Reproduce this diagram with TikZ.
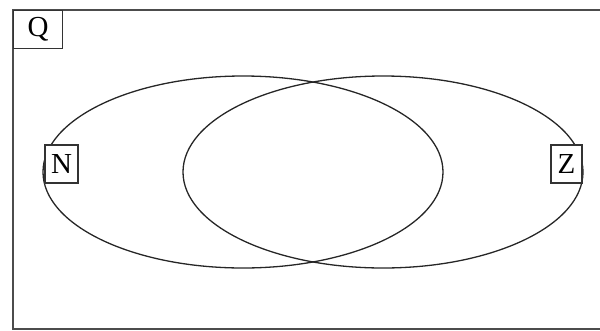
\documentclass[tikz,border=0pt]{standalone}
\usepackage{fontspec}
\setmainfont{Liberation Serif}
\begin{document}
\begin{tikzpicture}[x=1pt,y=-1pt,
  line/.style={draw=black!85,line width=1.3pt},
  lbl/.style={draw=black!80,line width=1.2pt,fill=white,inner sep=0pt,font=\fontsize{29}{29}\selectfont}]
\useasboundingbox (0,0) rectangle (600,330);
\draw[line,draw=black!70] (13,10) rectangle (606,329);
\draw[line] (243,172) ellipse [x radius=200, y radius=96];
\draw[line] (383,172) ellipse [x radius=200, y radius=96];
\node[lbl,minimum width=49pt,minimum height=38pt,anchor=north west] (q) at (13,10) {Q};
\node[lbl,minimum width=33pt,minimum height=38pt] (n) at (61.5,164) {N};
\node[lbl,minimum width=31pt,minimum height=38pt] (z) at (566.5,164) {Z};
\end{tikzpicture}
\end{document}
